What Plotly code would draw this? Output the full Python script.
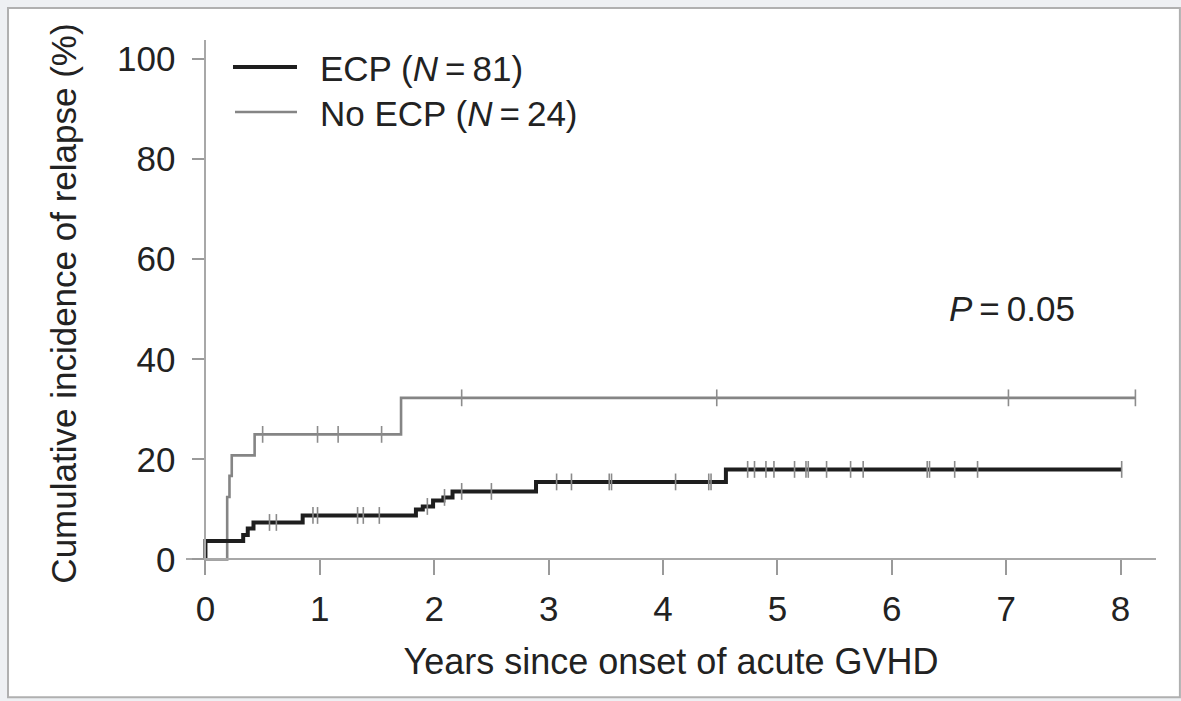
import numpy as np
import plotly.graph_objects as go

# ---------------- data ----------------
ecp_event_times = [0.0, 0.33, 0.37, 0.42, 0.85, 1.84, 1.90, 1.99, 2.08, 2.16, 2.89, 4.55]
ecp_event_cif = [3.7, 4.9, 6.2, 7.4, 8.8, 10.0, 10.6, 11.8, 12.4, 13.6, 15.5, 18.0]
ecp_end_time = 8.01
ecp_censor_times = [0.56, 0.62, 0.94, 0.98, 1.33, 1.38, 1.52, 1.94, 2.09, 2.24, 2.50,
                    3.07, 3.20, 3.53, 3.55, 4.11, 4.40, 4.42, 4.74, 4.80, 4.90, 4.97,
                    5.15, 5.25, 5.27, 5.43, 5.64, 5.75, 6.31, 6.33, 6.55, 6.75, 8.01]

noecp_event_times = [0.19, 0.21, 0.23, 0.43, 1.71]
noecp_event_cif = [12.5, 16.7, 20.8, 25.0, 32.3]
noecp_end_time = 8.13
noecp_censor_times = [0.50, 0.98, 1.16, 1.54, 2.24, 4.47, 7.02, 8.13]

x_ticks = [0, 1, 2, 3, 4, 5, 6, 7, 8]
y_ticks = [0, 20, 40, 60, 80, 100]

TS = "\u2009"  # thin space around '='
series_names = ["ECP (<i>N</i>" + TS + "=" + TS + "81)", "No ECP (<i>N</i>" + TS + "=" + TS + "24)"]
x_title = "Years since onset of acute GVHD"
y_title = "Cumulative incidence of relapse (%)"
p_text = "<i>P</i>" + TS + "=" + TS + "0.05"

# ---------------- layout geometry ----------------
W, H = 1181, 701
ML, MT = 186, 40
PW = 970.1
PH = 526.7
MR = W - ML - PW
MB = H - MT - PH
XR = [-0.17, 8.31]
YR = [-1.5, 103.8]


def px_x(px):
    return (px - ML) / PW


def px_y(py):
    return (MT + PH - py) / PH


def step_xy(times, vals, end):
    xs = [0.0] + list(times) + [end]
    ys = [0.0] + list(vals) + [vals[-1]]
    return xs, ys


def level_at(times, vals, t):
    idx = np.searchsorted(np.array(times), np.array(t), side="right") - 1
    arr = np.array([0.0] + list(vals))
    return arr[idx + 1]


ECP_COLOR = "#1e1e1e"
NO_COLOR = "#858585"
TXT = "#222222"
FONT = "Liberation Sans, Arial, sans-serif"

fig = go.Figure()

ex, ey = step_xy(ecp_event_times, ecp_event_cif, ecp_end_time)
nx, ny = step_xy(noecp_event_times, noecp_event_cif, noecp_end_time)

fig.add_trace(go.Scatter(x=nx, y=ny, mode="lines", line=dict(color=NO_COLOR, width=2.6, shape="hv"),
                         name=series_names[1], showlegend=False))
fig.add_trace(go.Scatter(x=ex, y=ey, mode="lines", line=dict(color=ECP_COLOR, width=4, shape="hv"),
                         name=series_names[0], showlegend=False))

fig.add_trace(go.Scatter(
    x=noecp_censor_times, y=level_at(noecp_event_times, noecp_event_cif, noecp_censor_times),
    mode="markers", marker=dict(symbol="line-ns", size=12, line=dict(color="#8c8c8c", width=1.6)),
    showlegend=False, hoverinfo="skip"))
fig.add_trace(go.Scatter(
    x=ecp_censor_times, y=level_at(ecp_event_times, ecp_event_cif, ecp_censor_times),
    mode="markers", marker=dict(symbol="line-ns", size=12, line=dict(color="#8a8a8a", width=1.6)),
    showlegend=False, hoverinfo="skip"))

shapes = [
    # picture frame
    dict(type="rect", xref="paper", yref="paper", layer="below",
         x0=px_x(8), x1=px_x(1180), y0=px_y(697), y1=px_y(8),
         line=dict(color="#b0b0b0", width=2), fillcolor="white"),
    # legend samples
    dict(type="line", xref="paper", yref="paper", x0=px_x(233), x1=px_x(297), y0=px_y(67), y1=px_y(67),
         line=dict(color=ECP_COLOR, width=4)),
    dict(type="line", xref="paper", yref="paper", x0=px_x(235), x1=px_x(297), y0=px_y(112), y1=px_y(112),
         line=dict(color=NO_COLOR, width=2.6)),
]

annotations = [
    dict(text=series_names[0], xref="paper", yref="paper", x=px_x(318), y=px_y(68),
         xanchor="left", yanchor="middle", showarrow=False, font=dict(size=35, color=TXT, family=FONT)),
    dict(text=series_names[1], xref="paper", yref="paper", x=px_x(318), y=px_y(113),
         xanchor="left", yanchor="middle", showarrow=False, font=dict(size=35, color=TXT, family=FONT)),
    dict(text=p_text, xref="paper", yref="paper", x=px_x(1077), y=px_y(308),
         xanchor="right", yanchor="middle", showarrow=False, font=dict(size=35, color=TXT, family=FONT)),
]

fig.update_layout(
    width=W, height=H,
    margin=dict(l=ML, r=MR, t=MT, b=MB, pad=0),
    paper_bgcolor="#eef0f3",
    plot_bgcolor="rgba(0,0,0,0)",
    font=dict(family=FONT, color=TXT),
    shapes=shapes,
    annotations=annotations,
    showlegend=False,
    xaxis=dict(
        range=XR, anchor="free", position=(0 - YR[0]) / (YR[1] - YR[0]),
        showline=True, linecolor="#a8a8a8", linewidth=2,
        ticks="outside", ticklen=15, tickwidth=2, tickcolor="#9a9a9a",
        tickvals=x_ticks, tickfont=dict(size=35, color=TXT, family=FONT),
        ticklabelstandoff=4,
        showgrid=False, zeroline=False,
        title=dict(text=x_title, font=dict(size=36, color=TXT, family=FONT), standoff=20),
    ),
    yaxis=dict(
        range=YR, anchor="free", position=(0 - XR[0]) / (XR[1] - XR[0]),
        showline=True, linecolor="#a8a8a8", linewidth=2,
        ticks="outside", ticklen=12, tickwidth=2, tickcolor="#9a9a9a",
        tickvals=y_ticks, tickfont=dict(size=35, color=TXT, family=FONT),
        ticklabelstandoff=10,
        showgrid=False, zeroline=False,
        title=dict(text=y_title, font=dict(size=35, color=TXT, family=FONT), standoff=29),
    ),
)

fig.write_html("out.html")
